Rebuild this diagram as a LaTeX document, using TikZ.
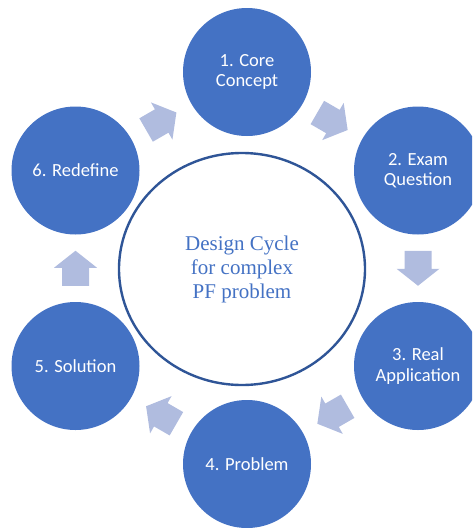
\documentclass[tikz,border=0pt]{standalone}
\usepackage{fontspec}
\setmainfont{Liberation Serif}
\newfontfamily\carl{Carlito}
\usetikzlibrary{calc,shapes.geometric}
\definecolor{cblue}{HTML}{4472C4}
\definecolor{carr}{HTML}{B0BCDF}
\definecolor{cedge}{HTML}{2F5597}
\tikzset{
  stage/.style={circle, fill=cblue, minimum size=128pt, inner sep=0pt, text=white,
    font=\carl\fontsize{18.5}{20.5}\selectfont, align=center},
  hub/.style={ellipse, draw=cedge, line width=2.4pt, fill=white, minimum width=246pt,
    minimum height=232pt, inner sep=0pt, text=cblue, font=\fontsize{21}{24}\selectfont, align=center},
  cyc/.pic={\fill[carr] (-17.5,-13.5) -- (0.5,-13.5) -- (0.5,-21.5) -- (17.5,0) -- (0.5,21.5) -- (0.5,13.5) -- (-17.5,13.5) -- cycle;}
}
\begin{document}
\begin{tikzpicture}[x=1pt,y=-1pt]
\useasboundingbox (0,0) rectangle (472,528);
\clip (0,0) rectangle (472,528);
\node[stage] (c1) at (247,72) {1. Core\\Concept};
\node[stage] (c2) at (418,170.5) {2. Exam\\Question};
\node[stage] (c3) at (418,366) {3. Real\\Application};
\node[stage] (c4) at (247,464) {4. Problem};
\node[stage] (c5) at (75.5,366) {5. Solution};
\node[stage] (c6) at (75.5,170.5) {6. Redefine};
\node[hub] (hub) at (242,269) {Design Cycle\\for complex\\PF problem};
\pic[rotate=-30] at ($(c1)!0.5!(c2)$) {cyc};
\pic[rotate=-90] at ($(c2)!0.5!(c3)$) {cyc};
\pic[rotate=210] at ($(c3)!0.5!(c4)$) {cyc};
\pic[rotate=150] at ($(c4)!0.5!(c5)$) {cyc};
\pic[rotate=90] at ($(c5)!0.5!(c6)$) {cyc};
\pic[rotate=30] at ($(c6)!0.5!(c1)$) {cyc};
\end{tikzpicture}
\end{document}
